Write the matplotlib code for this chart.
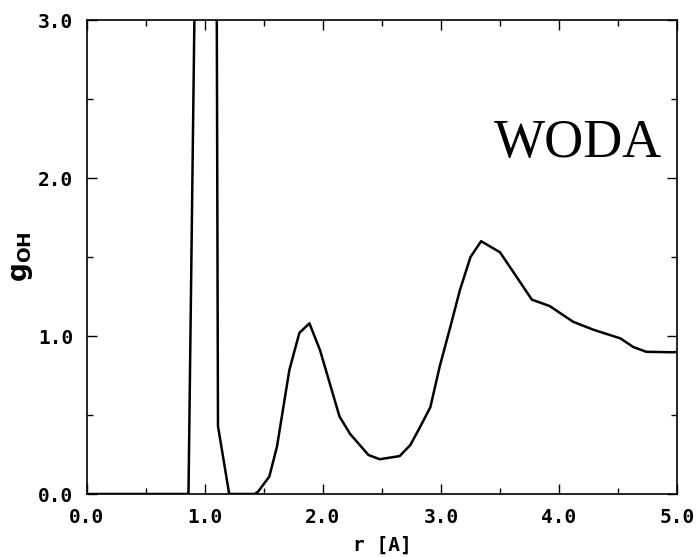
import matplotlib
matplotlib.use("Agg")
import matplotlib.pyplot as plt
from matplotlib.ticker import MultipleLocator

r = [0.0, 0.85, 0.86, 0.91, 1.0, 1.10, 1.11, 1.205, 1.42, 1.45, 1.545, 1.61, 1.715, 1.80, 1.885,
     1.975, 2.14, 2.23, 2.385, 2.48, 2.65, 2.74, 2.82, 2.91, 2.99, 3.08, 3.16, 3.25, 3.34,
     3.50, 3.64, 3.77, 3.92, 4.12, 4.29, 4.52, 4.63, 4.74, 4.97, 5.0]
g = [0.0, 0.0, 0.0, 3.0, 8.0, 3.0, 0.43, 0.0, 0.0, 0.015, 0.11, 0.30, 0.785, 1.02, 1.08,
     0.91, 0.49, 0.38, 0.247, 0.22, 0.24, 0.31, 0.42, 0.55, 0.81, 1.06, 1.29, 1.50, 1.60,
     1.53, 1.375, 1.23, 1.19, 1.09, 1.04, 0.985, 0.93, 0.90, 0.897, 0.90]

xticks = [0.0, 1.0, 2.0, 3.0, 4.0, 5.0]
yticks = [0.0, 1.0, 2.0, 3.0]

fig = plt.figure(figsize=(6.99, 5.57), dpi=100)
ax = fig.add_axes([87/699, 1 - 494/557, 590/699, 474/557])
ax.plot(r, g, color="black", lw=1.8)
ax.set_xlim(0, 5)
ax.set_ylim(0, 3)
ax.set_xticks(xticks)
ax.set_yticks(yticks)
ax.xaxis.set_minor_locator(MultipleLocator(0.5))
ax.yaxis.set_minor_locator(MultipleLocator(0.5))
tickfont = dict(family="DejaVu Sans Mono", weight="bold", size=14)
ax.set_xticklabels([f"{v:.1f}" for v in xticks], **tickfont)
ax.set_yticklabels([f"{v:.1f}" for v in yticks], **tickfont)
ax.tick_params(which="both", direction="in", top=True, right=True, width=1)
ax.tick_params(which="major", length=7, pad=10)
ax.tick_params(which="minor", length=4)
for s in ax.spines.values():
    s.set_linewidth(1.2)
ax.set_xlabel("r [A]", fontfamily="DejaVu Sans Mono", fontweight="bold", fontsize=14, labelpad=6)
ax.set_ylabel(r"$\mathbf{g}_{\mathbf{OH}}$", fontsize=19, labelpad=2)
ax.text(0.975, 0.711, "WODA", transform=ax.transAxes, ha="right", va="baseline",
        fontfamily="Liberation Serif", fontsize=39)
fig.savefig("out.png", dpi=100)
